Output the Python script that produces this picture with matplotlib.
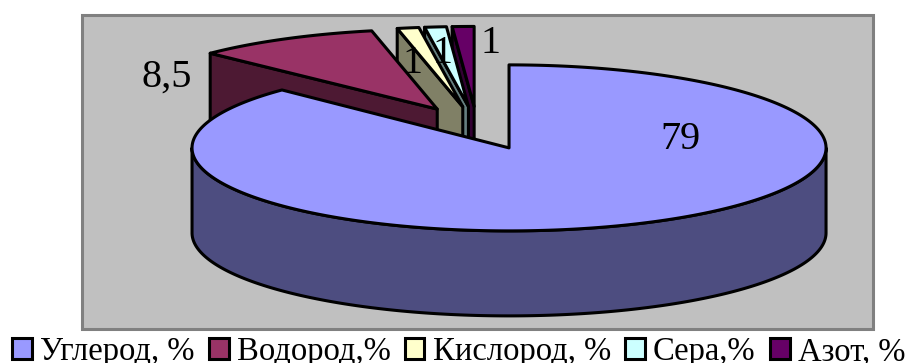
import numpy as np
import matplotlib
matplotlib.use("Agg")
import matplotlib.pyplot as plt
from matplotlib.patches import Polygon, Rectangle, Patch

names = ["Углерод, %", "Водород,%", "Кислород, %", "Сера,%", "Азот, %"]
values = [79, 8.5, 1, 1, 1]
top_colors = ["#9999FF", "#993366", "#FFFFCC", "#CCFFFF", "#660066"]
side_colors = ["#4D4D80", "#4D1933", "#808066", "#668080", "#330033"]

plt.rcParams["font.family"] = ["Liberation Serif", "DejaVu Serif"]

# pie geometry in pixels
cx, cy = 477, 128
rx, ry = 317, 83
ry_back = 80  # slices at the back look a little flatter
depth = 85
explode = 0.26
lw = 2.2


def rim(center, a0, a1, rad_y):
    # angles in degrees, clockwise from twelve o'clock
    t = np.radians(np.linspace(a0, a1, max(int(abs(a1 - a0)) * 2, 2)))
    return np.column_stack([center[0] + rx * np.sin(t), center[1] - rad_y * np.cos(t)])


fig = plt.figure(figsize=(9.07, 3.63), dpi=100)
ax = fig.add_axes([0, 0, 1, 1])
ax.set_xlim(0, 907)
ax.set_ylim(363, 0)
ax.axis("off")

ax.add_patch(Rectangle((82, 15), 791, 314, facecolor="#C0C0C0", edgecolor="#808080", lw=2.2))

ang = np.cumsum([0] + values) / sum(values) * 360
down = np.array([0, depth])

# back slices first so the big one ends up on top
for i in range(len(values) - 1, -1, -1):
    a0, a1 = ang[i], ang[i + 1]
    mid = np.radians((a0 + a1) / 2)
    apex = np.array([cx + explode * rx * np.sin(mid), cy - explode * ry * np.cos(mid)])
    if a0 < 180 < a1:
        arc = rim(apex, a0, a1, ry)
        # front wall of the rim
        front = rim(apex, max(a0, 90), min(a1, 270), ry)
        ax.add_patch(Polygon(np.vstack([front, (front + down)[::-1]]), closed=True,
                             facecolor=side_colors[i], edgecolor="black", lw=lw, joinstyle="round"))
    else:
        arc = rim(apex, a0, a1, ry_back)
        # cut face on the leading radius
        face = np.array([apex, arc[0], arc[0] + down, apex + down])
        ax.add_patch(Polygon(face, closed=True, facecolor=side_colors[i], edgecolor="black",
                             lw=lw, joinstyle="round"))
    ax.add_patch(Polygon(np.vstack([apex, arc]), closed=True, facecolor=top_colors[i],
                         edgecolor="black", lw=lw, joinstyle="round"))

label_xy = [(680, 149), (167, 87), (412, 73), (443, 63), (490, 53)]
for v, (x, y) in zip(values, label_xy):
    ax.text(x, y, str(v).replace(".", ","), fontsize=29, ha="center", va="baseline", color="black")

handles = [Patch(facecolor=c, edgecolor="black", lw=2.2) for c in top_colors]
ax.legend(handles, names, loc="lower left", bbox_to_anchor=(12 / 907, -0.012), ncol=5, frameon=False,
          fontsize=23.5, handlelength=0.61, handleheight=0.61, handletextpad=0.25, columnspacing=0.43,
          borderpad=0.0, borderaxespad=0.0)

fig.savefig("out.png", dpi=100)
